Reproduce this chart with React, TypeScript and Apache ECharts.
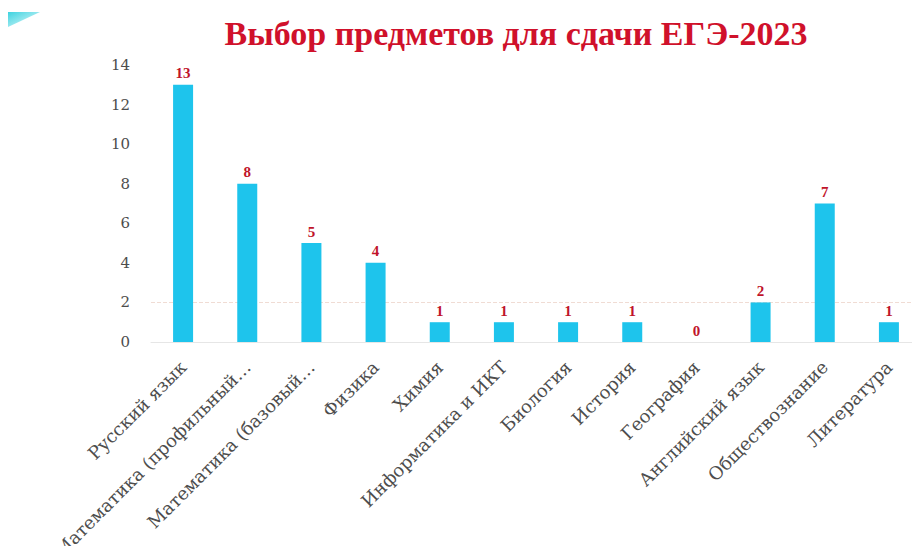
import React, { useEffect, useRef } from "react";
import * as echarts from "echarts";

const categories = [
  "Русский язык",
  "Математика (профильный…",
  "Математика (базовый…",
  "Физика",
  "Химия",
  "Информатика и ИКТ",
  "Биология",
  "История",
  "География",
  "Английский язык",
  "Обществознание",
  "Литература",
];
const values = [13, 8, 5, 4, 1, 1, 1, 1, 0, 2, 7, 1];
const yTicks = { min: 0, max: 14, interval: 2 };
const titleText = "Выбор предметов для сдачи ЕГЭ-2023";

export default function App() {
  const ref = useRef<HTMLDivElement>(null);
  useEffect(() => {
    document.body.style.margin = "0";
    const chart = echarts.init(ref.current!, null, { renderer: "svg" });
    const none = "rgba(0,0,0,0)";
    chart.setOption({
      animation: false,
      backgroundColor: "#ffffff",
      title: {
        text: titleText,
        left: 511,
        top: 11,
        textAlign: "center",
        textStyle: {
          fontFamily: "Liberation Serif",
          fontWeight: "bold",
          fontSize: 34,
          color: "#d0112b",
        },
      },
      graphic: [
        {
          type: "polygon",
          shape: { points: [[8, 12], [40, 12], [8, 27]] },
          style: {
            fill: new echarts.graphic.LinearGradient(0, 0, 1, 1, [
              { offset: 0, color: "#3fd3e0" },
              { offset: 1, color: "#e8fbfc" },
            ]),
          },
        },
      ],
      grid: {
        left: 151,
        width: 770,
        top: 65,
        height: 277,
        containLabel: false,
        outerBoundsMode: "none",
      },
      xAxis: {
        type: "category",
        data: categories,
        axisLine: { show: true, lineStyle: { color: "#e6e6e6" } },
        axisTick: { show: false },
        axisLabel: {
          interval: 0,
          rotate: 45,
          margin: 22,
          fontFamily: "DejaVu Serif",
          fontSize: 18,
          color: "#4d4d4d",
        },
      },
      yAxis: {
        type: "value",
        min: yTicks.min,
        max: yTicks.max,
        interval: yTicks.interval,
        axisLine: { show: false },
        axisTick: { show: false },
        splitLine: {
          show: true,
          lineStyle: {
            type: "dashed",
            width: 1,
            color: [none, "#f0dcd4", none, none, none, none, none, none],
          },
        },
        axisLabel: {
          margin: 21,
          fontFamily: "DejaVu Serif",
          fontSize: 15,
          color: "#4d4d4d",
        },
      },
      series: [
        {
          type: "bar",
          data: values,
          barWidth: 20,
          itemStyle: { color: "#1ec4ec" },
          label: {
            show: true,
            position: "top",
            distance: 4,
            fontFamily: "Liberation Serif",
            fontWeight: "bold",
            fontSize: 15,
            color: "#c0142a",
          },
        },
      ],
    });
    return () => chart.dispose();
  }, []);
  return <div ref={ref} style={{ width: 912, height: 546 }} />;
}
